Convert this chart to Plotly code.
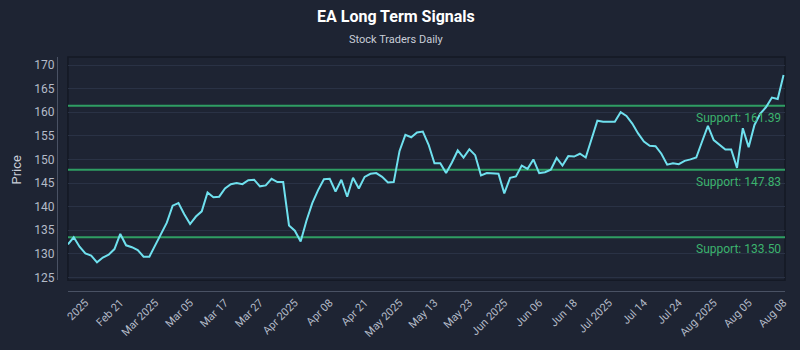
import plotly.graph_objects as go

# ---- data ----
prices = [132.0, 133.5, 131.5, 130.1, 129.6, 128.2, 129.2, 129.8, 131.0, 134.2,
          131.8, 131.4, 130.8, 129.4, 129.4, 131.8, 133.9, 136.6, 140.2, 140.75,
          138.4, 136.3, 137.9, 139.0, 143.0, 142.0, 142.1, 143.85, 144.75, 145.0,
          144.75, 145.6, 145.7, 144.3, 144.5, 145.9, 145.2, 145.2, 136.0, 134.9,
          132.6, 137.0, 140.75, 143.5, 145.8, 145.9, 143.2, 145.7, 142.1, 146.1,
          143.85, 146.3, 146.95, 147.1, 146.3, 145.1, 145.2, 151.8, 155.2, 154.7,
          155.7, 155.9, 153.1, 149.2, 149.2, 147.1, 149.35, 151.9, 150.4, 152.15,
          150.9, 146.6, 147.1, 147.1, 146.95, 142.8, 146.1, 146.4, 148.7, 148.0,
          150.0, 147.1, 147.3, 147.8, 150.3, 148.7, 150.7, 150.6, 151.2, 150.4,
          154.3, 158.2, 158.0, 158.0, 158.0, 160.0, 159.2, 157.6, 155.5, 153.8,
          152.9, 152.8, 151.2, 148.9, 149.2, 149.0, 149.7, 150.0, 150.4, 153.8,
          157.1, 154.1, 153.1, 152.1, 152.1, 148.2, 156.6, 152.6, 157.3, 159.7,
          161.1, 163.1, 162.8, 167.9]
x_index = list(range(len(prices)))

tick_labels = ["2025", "Feb 21", "Mar 2025", "Mar 05", "Mar 17", "Mar 27", "Apr 2025",
               "Apr 08", "Apr 21", "May 2025", "May 13", "May 23", "Jun 2025", "Jun 06",
               "Jun 18", "Jul 2025", "Jul 14", "Jul 24", "Aug 2025", "Aug 05", "Aug 08"]
tick_step = 6
tick_first = len(prices) - 1 - tick_step * (len(tick_labels) - 1)
tick_positions = [tick_first + tick_step * i for i in range(len(tick_labels))]

support_levels = [161.39, 147.83, 133.50]
y_ticks = [125, 130, 135, 140, 145, 150, 155, 160, 165, 170]

# ---- style ----
BG = "#1e2433"
GRID = "#2a3245"
FRAME = "#141925"
AXIS = "#4a5264"
TICK = "#b4bbc8"
GREEN_LINE = "#2f9e63"
GREEN_TEXT = "#3cb36e"
PRICE = "#6fe0ee"
FONT = "Roboto"

x_max = len(prices) - 1 + 0.25

fig = go.Figure()
for lvl in support_levels:
    fig.add_trace(go.Scatter(x=[0, x_max], y=[lvl, lvl], mode="lines",
                             line=dict(color=GREEN_LINE, width=2), hoverinfo="skip",
                             showlegend=False))
fig.add_trace(go.Scatter(x=x_index, y=prices, mode="lines",
                         line=dict(color=PRICE, width=2), hoverinfo="skip",
                         showlegend=False))

shapes = [dict(type="rect", xref="x domain", yref="y domain", x0=0, x1=1, y0=0, y1=1,
               line=dict(color=FRAME, width=1.5), layer="below")]
annotations = []
for lvl in support_levels:
    annotations.append(dict(xref="x domain", yref="y", x=0.997, y=lvl, xanchor="right",
                            yanchor="top", yshift=-3, showarrow=False,
                            text=f"Support: {lvl:.2f}",
                            font=dict(family=FONT, size=12, color=GREEN_TEXT)))

annotations += [
    dict(xref="paper", yref="paper", x=0.466, y=1.171, xanchor="center", yanchor="middle",
         showarrow=False, text="<b>EA Long Term Signals</b>",
         font=dict(family=FONT, size=16, color="#ffffff")),
    dict(xref="paper", yref="paper", x=0.466, y=1.075, xanchor="center", yanchor="middle",
         showarrow=False, text="Stock Traders Daily",
         font=dict(family=FONT, size=11, color="#c9ced8")),
    dict(xref="paper", yref="paper", x=-0.056, y=0.52, xanchor="center", yanchor="middle",
         showarrow=False, text="Price", textangle=-90,
         font=dict(family=FONT, size=13, color="#c9ced8")),
]

fig.update_layout(
    width=800, height=350,
    paper_bgcolor=BG, plot_bgcolor=BG,
    margin=dict(l=57, r=10, t=57, b=53),
    showlegend=False,
    shapes=shapes,
    annotations=annotations,
    font=dict(family=FONT, color=TICK),
    xaxis=dict(domain=[0.015, 1], anchor="free", position=0,
               range=[0, x_max],
               tickmode="array", tickvals=tick_positions, ticktext=tick_labels,
               tickangle=-45, tickfont=dict(family=FONT, size=11, color=TICK),
               showgrid=False, zeroline=False, showline=True, linecolor=AXIS,
               linewidth=1, ticks=""),
    yaxis=dict(domain=[0.046, 1], anchor="free", position=0,
               range=[124.4, 171.7],
               tickmode="array", tickvals=y_ticks,
               tickfont=dict(family=FONT, size=12, color=TICK),
               showgrid=True, gridcolor=GRID, gridwidth=1, zeroline=False,
               showline=True, linecolor=AXIS, linewidth=1, ticks=""),
)

fig.write_html("out.html")
